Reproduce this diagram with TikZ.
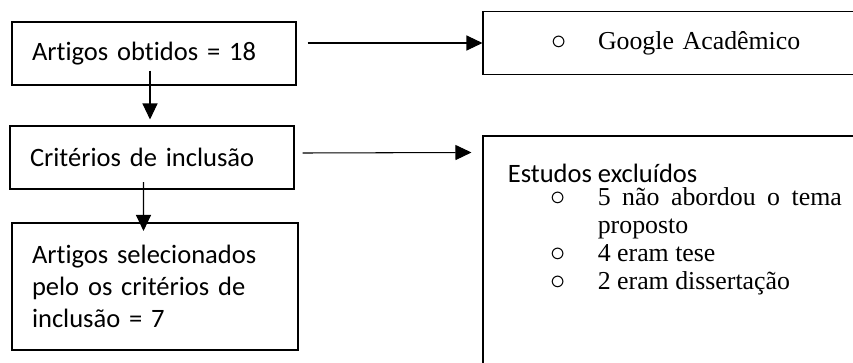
\documentclass[tikz,border=0pt]{standalone}
\usepackage{fontspec}
\setmainfont{Liberation Serif}
\setsansfont{Carlito}[Ligatures=NoCommon]
\usetikzlibrary{arrows.meta, calc}
\newcommand{\marcador}{\makebox[0.96cm][l]{\hspace{0.02cm}{\fontsize{16.5}{16.5}\selectfont$\circ$}}}

\begin{document}
\begin{tikzpicture}[
    font=\sffamily\fontsize{15.1}{18}\selectfont,
    caixa/.style={
        rectangle, draw=black, line width=0.6pt,
        inner xsep=0.4cm, inner ysep=0pt, align=left
    },
    item/.style={
        font=\rmfamily\fontsize{14.7}{15.1}\selectfont,
        inner sep=0pt, anchor=base west
    },
    seta/.style={draw=black, line width=0.6pt, -{Triangle[length=0.32cm, width=0.3cm]}}
]

\clip (0,0) rectangle (17.06,-7.24);

% 1. LEFT COLUMN: steps
\node[caixa, text width=4.88cm, minimum height=1.26cm] (obtidos) at (3.08,-1.07) {Artigos obtidos = 18};
\node[caixa, text width=4.88cm, minimum height=1.26cm] (criterios) at (3.04,-3.15) {Critérios de inclusão};
\node[caixa, text width=4.92cm, minimum height=2.54cm] (selecionados) at (3.10,-5.73) {Artigos selecionados\\pelo os critérios de\\inclusão = 7};

\draw[seta] ([xshift=-0.08cm, yshift=0.3cm]obtidos.south) -- ([xshift=-0.04cm, yshift=0.12cm]criterios.north);
\draw[seta] ([xshift=-0.17cm, yshift=0.15cm]criterios.south) -- ([xshift=-0.23cm, yshift=-0.17cm]selecionados.north);

% 2. RIGHT COLUMN: source and excluded studies
\node[caixa, font=\rmfamily\fontsize{14.7}{15.1}\selectfont, inner xsep=1.34cm, text width=5.26cm, minimum height=1.26cm] (google) at (13.63,-0.86) {\marcador Google Acadêmico};
\draw[seta] ([xshift=0.22cm, yshift=0.21cm]obtidos.east) -- (google.west);

\node[caixa, minimum width=7.94cm, minimum height=5.28cm] (excluidos) at (13.63,-5.36) {};
\node[anchor=base west, inner sep=0pt] (titulo) at ($(excluidos.north west)+(0.5,-0.94)$) {Estudos excluídos};
\node[item] (item1) at ($(titulo.base west)+(0.84,-0.46)$) {\marcador\makebox[4.88cm][s]{5 não abordou o tema}};
\node[item] (item1b) at ($(item1.base west)+(0.96,-0.56)$) {proposto};
\node[item] (item2) at ($(item1.base west)+(0,-1.12)$) {\marcador 4 eram tese};
\node[item] (item3) at ($(item1.base west)+(0,-1.68)$) {\marcador 2 eram dissertação};
\draw[seta] ([xshift=0.16cm, yshift=0.09cm]criterios.east) -- ([xshift=-0.22cm, yshift=-0.34cm]excluidos.north west);

\end{tikzpicture}
\end{document}
